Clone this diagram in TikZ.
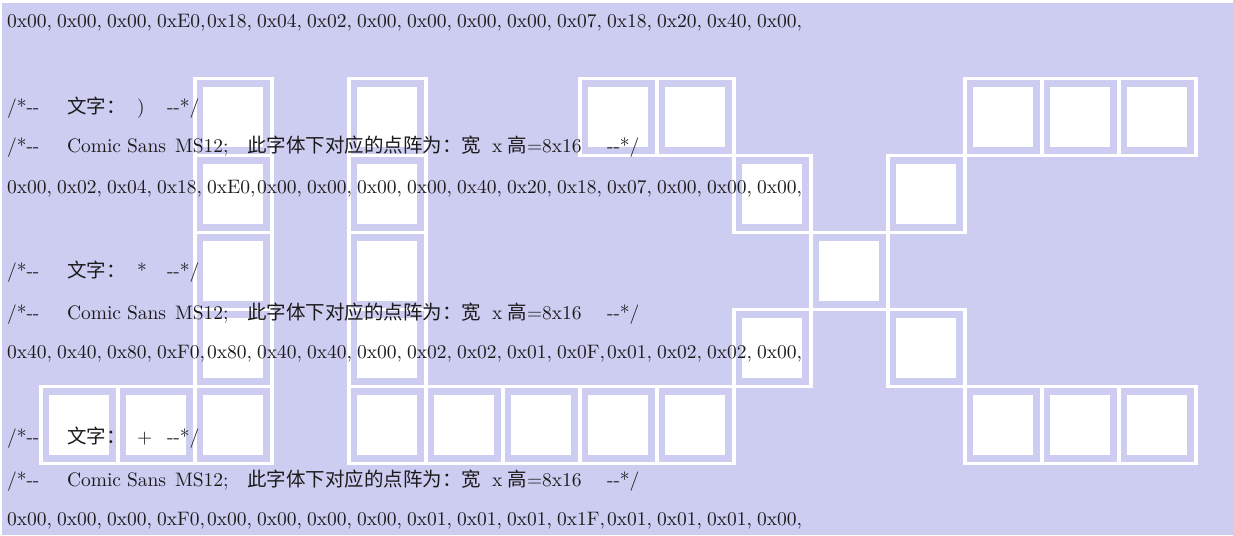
\documentclass[tikz,border=0pt]{standalone}
\usepackage{fontspec}
\newfontfamily\cjk{Noto Sans CJK SC}
\newfontfamily\lmten{lmroman10-regular.otf}
\definecolor{bgl}{HTML}{CDCDF2}
\definecolor{ink}{HTML}{1A1A1A}
\newcommand\wordline[3]{%
  \node[txt] (#1a) at (7,#2) {/*-{}-};
  \node[cj]  (#1b) at (67,#2) {文字：};
  \node[txt] (#1c) at (137,#2) {#3};
  \node[txt] (#1d) at (167,#2) {-{}-*/};
}
\newcommand\fontline[2]{%
  \node[txt] (#1a) at (7,#2) {/*-{}-};
  \node[txt] (#1b) at (67,#2) {Comic};
  \node[txt] (#1c) at (127,#2) {Sans};
  \node[txt] (#1d) at (175,#2) {MS12;};
  \node[cj]  (#1e) at (247,#2) {此字体下对应的点阵为：宽};
  \node[txt] (#1f) at (492,#2) {x};
  \node[cj]  (#1g) at (507,#2) {高};
  \node[txt] (#1h) at (527,#2) {=8x16};
  \node[txt] (#1i) at (607,#2) {-{}-*/};
}
\newcommand\hexline[3]{%
  \foreach \v [count=\k from 0] in {#3} {
    \node[txt] (#1\k) at ({7+50*\k},#2) {0x\v,};
  }
}
\begin{document}
\begin{tikzpicture}[x=1pt,y=-1pt,
  cellframe/.style={draw=white,line width=3.5pt},
  cellcore/.style={fill=white},
  txt/.style={anchor=base west,inner sep=0pt,outer sep=0pt,text=ink,font=\lmten\fontsize{19.5}{19.5}\selectfont},
  cj/.style={anchor=base west,inner sep=0pt,outer sep=0pt,text=ink,font=\fontsize{19.5}{19.5}\selectfont\cjk}]
\useasboundingbox (0,0) rectangle (1233,535);
\fill[bgl] (2,3) rectangle (1233,535);
% pixel cells
\foreach \c/\r in {2/0,2/1,2/2,2/3,2/4,0/4,1/4,
                   4/0,4/1,4/2,4/3,4/4,5/4,6/4,7/4,8/4,
                   7/0,8/0,9/1,11/1,10/2,9/3,11/3,
                   12/0,13/0,14/0,12/4,13/4,14/4} {
  \draw[cellframe] ({41+77*\c},{78.5+77*\r}) rectangle +(77,77);
  \path[cellcore] ({49+77*\c},{87+77*\r}) rectangle +(60,60);
}
% text
\hexline{ha}{28}{00,00,00,E0,18,04,02,00,00,00,00,07,18,20,40,00}
\wordline{wa}{113}{)}
\fontline{fa}{152}
\hexline{hb}{193}{00,02,04,18,E0,00,00,00,00,40,20,18,07,00,00,00}
\wordline{wb}{277}{*}
\fontline{fb}{319}
\hexline{hc}{358}{40,40,80,F0,80,40,40,00,02,02,01,0F,01,02,02,00}
\wordline{wc}{443}{+}
\fontline{fc}{486}
\hexline{hd}{525}{00,00,00,F0,00,00,00,00,01,01,01,1F,01,01,01,00}
\end{tikzpicture}
\end{document}
